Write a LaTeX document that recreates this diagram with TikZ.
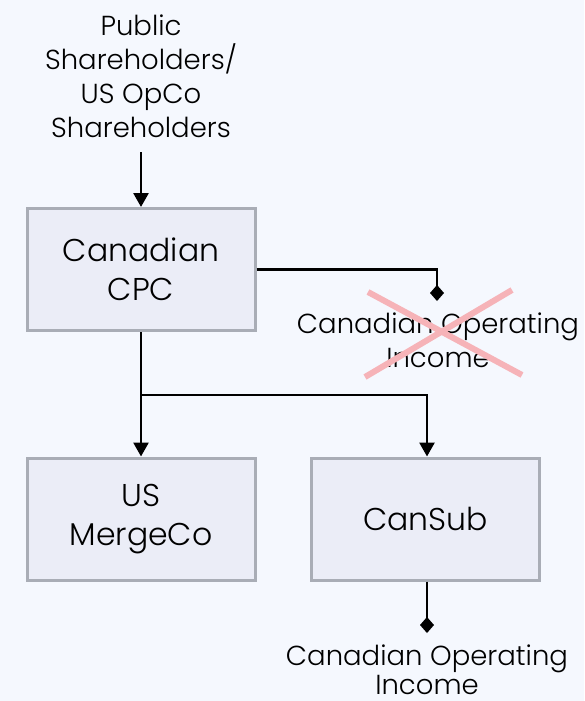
\documentclass[tikz,border=0pt]{standalone}
\usepackage{fontspec}
\setmainfont{Poppins Light}
\usetikzlibrary{arrows.meta}
\definecolor{bgcol}{HTML}{F5F8FE}
\definecolor{boxfill}{HTML}{EBEDF7}
\definecolor{boxline}{HTML}{A9ADB6}
\definecolor{crosscol}{HTML}{F6B3B8}
\begin{document}
\begin{tikzpicture}[x=1pt,y=-1pt,
  entity/.style={draw=boxline, fill=boxfill, line width=3pt, minimum width=228pt,
    minimum height=122pt, inner sep=0pt, align=center,
    font=\fontsize{31.5}{39}\selectfont},
  lbl/.style={align=center, inner sep=0pt, font=\fontsize{27.5}{34}\selectfont},
  lblb/.style={lbl, font=\fontsize{27.5}{29}\selectfont},
  link/.style={line width=2.7pt, draw=black},
  arr/.style={link, -{Triangle[length=14pt,width=15pt]}},
  dia/.style={link, -{Diamond[length=16pt,width=14pt]}},
  cross/.style={line width=6pt, draw=crosscol}]
\useasboundingbox (0,0) rectangle (584,701);
\fill[bgcol] (0,0) rectangle (584,701);

% shareholders (anchored at the baseline of the last line)
\node[lbl, anchor=base] (holders) at (141,137)
  {Public\\Shareholders/\\US OpCo\\Shareholders};
\coordinate (hbot) at (141,152);

% entities
\node[entity] (cpc) at (141,269.5) {Canadian\\CPC};
\node[entity] (merge) at (141,519) {US\\MergeCo};
\node[entity] (cansub) at (425.5,519) {CanSub};

% income labels
\coordinate (d1) at (437,301);
\node[lbl, anchor=base] (inc1) at (438,367) {Canadian Operating\\Income};
\coordinate (d2) at (427,633);
\node[lblb, anchor=base] (inc2) at (427,694) {Canadian Operating\\Income};

% connectors
\draw[arr] (hbot) -- (cpc.north);
\draw[dia] (cpc.east) -| (d1);
\coordinate (split) at (141,395);
\draw[arr] (cpc.south) -- (merge.north);
\draw[arr] (split) -| (cansub.north -| 427,0);
\draw[dia] (cansub.south -| 427,0) -- (d2);

% struck-out income
\draw[cross] (368,292) -- (522,375);
\draw[cross] (512,290) -- (365,377);
\end{tikzpicture}
\end{document}
